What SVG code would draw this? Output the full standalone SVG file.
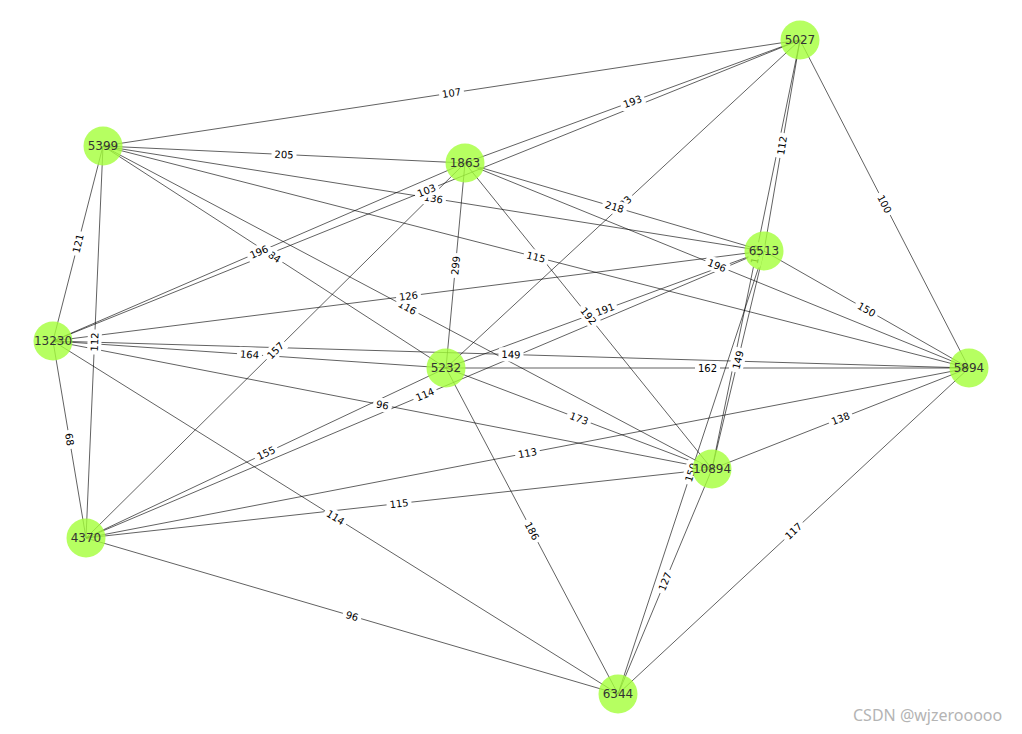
<svg xmlns="http://www.w3.org/2000/svg" width="1022" height="734" viewBox="0 0 1022 734">
<style>
.e{stroke:#000;stroke-opacity:0.62;stroke-width:1;fill:none}
.lb text{font-family:"DejaVu Sans",sans-serif;font-size:10px;fill:#000;text-anchor:middle}
.n circle{fill:#a4ff3a;fill-opacity:0.8}
.n text{font-family:"DejaVu Sans",sans-serif;font-size:12px;fill:#333;text-anchor:middle}
.wm{font-family:"Noto Sans","DejaVu Sans",sans-serif;font-size:16px;fill:#b4b4b4}
</style>
<defs>
<rect id="r3" x="-12.5" y="-7" width="25" height="14" rx="3" fill="#fff"/>
<rect id="r2" x="-9.5" y="-7" width="19" height="14" rx="3" fill="#fff"/>
</defs>
<rect width="1022" height="734" fill="#fff"/>
<g id="connectors">
<line class="e" x1="800" y1="40" x2="103" y2="146"/>
<line class="e" x1="800" y1="40" x2="465" y2="163"/>
<line class="e" x1="800" y1="40" x2="53" y2="341"/>
<line class="e" x1="800" y1="40" x2="446" y2="368"/>
<line class="e" x1="800" y1="40" x2="764" y2="251"/>
<line class="e" x1="800" y1="40" x2="712" y2="469"/>
<line class="e" x1="800" y1="40" x2="969" y2="368"/>
<line class="e" x1="103" y1="146" x2="465" y2="163"/>
<line class="e" x1="103" y1="146" x2="53" y2="341"/>
<line class="e" x1="103" y1="146" x2="86" y2="538"/>
<line class="e" x1="103" y1="146" x2="446" y2="368"/>
<line class="e" x1="103" y1="146" x2="712" y2="469"/>
<line class="e" x1="103" y1="146" x2="764" y2="251"/>
<line class="e" x1="103" y1="146" x2="969" y2="368"/>
<line class="e" x1="465" y1="163" x2="53" y2="341"/>
<line class="e" x1="465" y1="163" x2="446" y2="368"/>
<line class="e" x1="465" y1="163" x2="764" y2="251"/>
<line class="e" x1="465" y1="163" x2="712" y2="469"/>
<line class="e" x1="465" y1="163" x2="969" y2="368"/>
<line class="e" x1="465" y1="163" x2="86" y2="538"/>
<line class="e" x1="764" y1="251" x2="53" y2="341"/>
<line class="e" x1="764" y1="251" x2="446" y2="368"/>
<line class="e" x1="764" y1="251" x2="86" y2="538"/>
<line class="e" x1="764" y1="251" x2="969" y2="368"/>
<line class="e" x1="764" y1="251" x2="712" y2="469"/>
<line class="e" x1="764" y1="251" x2="618" y2="694"/>
<line class="e" x1="53" y1="341" x2="446" y2="368"/>
<line class="e" x1="53" y1="341" x2="969" y2="368"/>
<line class="e" x1="53" y1="341" x2="712" y2="469"/>
<line class="e" x1="53" y1="341" x2="86" y2="538"/>
<line class="e" x1="53" y1="341" x2="618" y2="694"/>
<line class="e" x1="446" y1="368" x2="969" y2="368"/>
<line class="e" x1="446" y1="368" x2="712" y2="469"/>
<line class="e" x1="446" y1="368" x2="86" y2="538"/>
<line class="e" x1="446" y1="368" x2="618" y2="694"/>
<line class="e" x1="969" y1="368" x2="712" y2="469"/>
<line class="e" x1="969" y1="368" x2="86" y2="538"/>
<line class="e" x1="969" y1="368" x2="618" y2="694"/>
<line class="e" x1="712" y1="469" x2="86" y2="538"/>
<line class="e" x1="712" y1="469" x2="618" y2="694"/>
<line class="e" x1="86" y1="538" x2="618" y2="694"/>
</g>
<g id="edge-labels">
<g class="lb" transform="translate(451.5,93) rotate(-8.65)"><use href="#r3"/><text y="3.6">107</text></g>
<g class="lb" transform="translate(632.5,101.5) rotate(-20.16)"><use href="#r3"/><text y="3.6">193</text></g>
<g class="lb" transform="translate(433.5,198.5) rotate(9.03)"><use href="#r3"/><text y="3.6">136</text></g>
<g class="lb" transform="translate(426.5,190.5) rotate(-21.95)"><use href="#r3"/><text y="3.6">103</text></g>
<g class="lb" transform="translate(623,204) rotate(-42.82)"><use href="#r3"/><text y="3.6">183</text></g>
<g class="lb" transform="translate(614.5,207) rotate(16.4)"><use href="#r3"/><text y="3.6">218</text></g>
<g class="lb" transform="translate(782,145.5) rotate(-80.32)"><use href="#r3"/><text y="3.6">112</text></g>
<g class="lb" transform="translate(756,254.5) rotate(-78.41)"><use href="#r3"/><text y="3.6">118</text></g>
<g class="lb" transform="translate(884.5,204) rotate(62.74)"><use href="#r3"/><text y="3.6">100</text></g>
<g class="lb" transform="translate(284,154.5) rotate(2.69)"><use href="#r3"/><text y="3.6">205</text></g>
<g class="lb" transform="translate(78,243.5) rotate(-75.62)"><use href="#r3"/><text y="3.6">121</text></g>
<g class="lb" transform="translate(94.5,342) rotate(-87.52)"><use href="#r3"/><text y="3.6">112</text></g>
<g class="lb" transform="translate(274.5,257) rotate(32.91)"><use href="#r2"/><text y="3.6">84</text></g>
<g class="lb" transform="translate(407.5,307.5) rotate(27.94)"><use href="#r3"/><text y="3.6">116</text></g>
<g class="lb" transform="translate(536,257) rotate(14.38)"><use href="#r3"/><text y="3.6">115</text></g>
<g class="lb" transform="translate(259,252) rotate(-23.37)"><use href="#r3"/><text y="3.6">196</text></g>
<g class="lb" transform="translate(455.5,265.5) rotate(-84.7)"><use href="#r3"/><text y="3.6">299</text></g>
<g class="lb" transform="translate(588.5,316) rotate(51.09)"><use href="#r3"/><text y="3.6">192</text></g>
<g class="lb" transform="translate(717,265.5) rotate(22.14)"><use href="#r3"/><text y="3.6">196</text></g>
<g class="lb" transform="translate(275.5,350.5) rotate(-44.69)"><use href="#r3"/><text y="3.6">157</text></g>
<g class="lb" transform="translate(408.5,296) rotate(-7.21)"><use href="#r3"/><text y="3.6">126</text></g>
<g class="lb" transform="translate(605,309.5) rotate(-20.2)"><use href="#r3"/><text y="3.6">191</text></g>
<g class="lb" transform="translate(425,394.5) rotate(-22.94)"><use href="#r3"/><text y="3.6">114</text></g>
<g class="lb" transform="translate(866.5,309.5) rotate(29.71)"><use href="#r3"/><text y="3.6">150</text></g>
<g class="lb" transform="translate(738,360) rotate(-76.58)"><use href="#r3"/><text y="3.6">149</text></g>
<g class="lb" transform="translate(691,472.5) rotate(-71.76)"><use href="#r3"/><text y="3.6">150</text></g>
<g class="lb" transform="translate(249.5,354.5) rotate(3.93)"><use href="#r3"/><text y="3.6">164</text></g>
<g class="lb" transform="translate(511,354.5) rotate(1.69)"><use href="#r3"/><text y="3.6">149</text></g>
<g class="lb" transform="translate(382.5,405) rotate(10.99)"><use href="#r2"/><text y="3.6">96</text></g>
<g class="lb" transform="translate(69.5,439.5) rotate(80.49)"><use href="#r2"/><text y="3.6">68</text></g>
<g class="lb" transform="translate(335.5,517.5) rotate(32)"><use href="#r3"/><text y="3.6">114</text></g>
<g class="lb" transform="translate(707.5,368)"><use href="#r3"/><text y="3.6">162</text></g>
<g class="lb" transform="translate(579,418.5) rotate(20.79)"><use href="#r3"/><text y="3.6">173</text></g>
<g class="lb" transform="translate(266,453) rotate(-25.28)"><use href="#r3"/><text y="3.6">155</text></g>
<g class="lb" transform="translate(532,531) rotate(62.18)"><use href="#r3"/><text y="3.6">186</text></g>
<g class="lb" transform="translate(840.5,418.5) rotate(-21.46)"><use href="#r3"/><text y="3.6">138</text></g>
<g class="lb" transform="translate(527.5,453) rotate(-10.9)"><use href="#r3"/><text y="3.6">113</text></g>
<g class="lb" transform="translate(793.5,531) rotate(-42.88)"><use href="#r3"/><text y="3.6">117</text></g>
<g class="lb" transform="translate(399,503.5) rotate(-6.29)"><use href="#r3"/><text y="3.6">115</text></g>
<g class="lb" transform="translate(665,581.5) rotate(-67.33)"><use href="#r3"/><text y="3.6">127</text></g>
<g class="lb" transform="translate(352,616) rotate(16.34)"><use href="#r2"/><text y="3.6">96</text></g>
</g>
<g id="node-5027" class="n"><circle cx="800" cy="40" r="19.5"/><text x="800" y="44.3">5027</text></g>
<g id="node-5399" class="n"><circle cx="103" cy="146" r="19.5"/><text x="103" y="150.3">5399</text></g>
<g id="node-1863" class="n"><circle cx="465" cy="163" r="19.5"/><text x="465" y="167.3">1863</text></g>
<g id="node-6513" class="n"><circle cx="764" cy="251" r="19.5"/><text x="764" y="255.3">6513</text></g>
<g id="node-13230" class="n"><circle cx="53" cy="341" r="19.5"/><text x="53" y="345.3">13230</text></g>
<g id="node-5232" class="n"><circle cx="446" cy="368" r="19.5"/><text x="446" y="372.3">5232</text></g>
<g id="node-5894" class="n"><circle cx="969" cy="368" r="19.5"/><text x="969" y="372.3">5894</text></g>
<g id="node-10894" class="n"><circle cx="712" cy="469" r="19.5"/><text x="712" y="473.3">10894</text></g>
<g id="node-4370" class="n"><circle cx="86" cy="538" r="19.5"/><text x="86" y="542.3">4370</text></g>
<g id="node-6344" class="n"><circle cx="618" cy="694" r="19.5"/><text x="618" y="698.3">6344</text></g>
<text class="wm" x="853" y="721">CSDN @wjzerooooo</text>
</svg>
